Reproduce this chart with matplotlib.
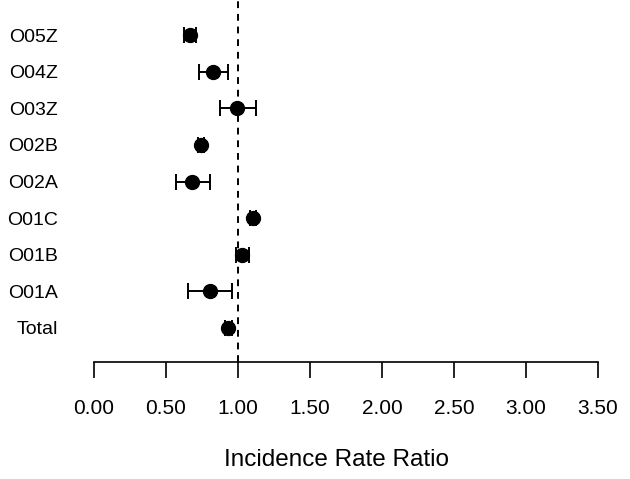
import matplotlib
matplotlib.use("Agg")
import matplotlib.pyplot as plt

plt.rcParams['font.family'] = ['Liberation Sans', 'DejaVu Sans']

categories = ["Total", "O01A", "O01B", "O01C", "O02A", "O02B", "O03Z", "O04Z", "O05Z"]
irr = [0.933, 0.806, 1.03, 1.104, 0.684, 0.741, 0.995, 0.826, 0.665]
lower = [0.91, 0.651, 0.984, 1.08, 0.572, 0.72, 0.875, 0.727, 0.623]
upper = [0.955, 0.956, 1.078, 1.125, 0.808, 0.765, 1.125, 0.933, 0.710]
xticks = [0.0, 0.5, 1.0, 1.5, 2.0, 2.5, 3.0, 3.5]
xticklabels = ["0.00", "0.50", "1.00", "1.50", "2.00", "2.50", "3.00", "3.50"]

W, H = 630, 479
fig = plt.figure(figsize=(W / 100, H / 100), dpi=100)
ax = fig.add_axes([94 / W, (H - 362) / H, (598 - 94) / W, 362 / H])

ypos = list(range(1, len(categories) + 1))
xerr = [[v - l for v, l in zip(irr, lower)], [u - v for v, u in zip(irr, upper)]]
ax.errorbar(irr, ypos, xerr=xerr, fmt='o', color='black', ecolor='black',
            markersize=10, elinewidth=1.4, capsize=5.5, capthick=1.4, zorder=3)
ax.axvline(1.0, color='black', linestyle=(0, (3.5, 3)), linewidth=1.4, zorder=1)

ax.set_xlim(0, 3.5)
ax.set_ylim(0.07, 9.96)
for s in ['top', 'right', 'left']:
    ax.spines[s].set_visible(False)
ax.spines['bottom'].set_linewidth(1.2)
ax.set_xticks(xticks)
ax.set_xticklabels(xticklabels, fontsize=15)
ax.tick_params(axis='x', length=11.5, width=1.2, pad=15)
ax.set_yticks(ypos)
ax.set_yticklabels(categories, fontsize=14)
ax.tick_params(axis='y', length=0, pad=26)
fig.text(336 / W, 1 - 460 / H, "Incidence Rate Ratio", fontsize=17.5,
         ha='center', va='center')

fig.savefig("out.png", dpi=100)
